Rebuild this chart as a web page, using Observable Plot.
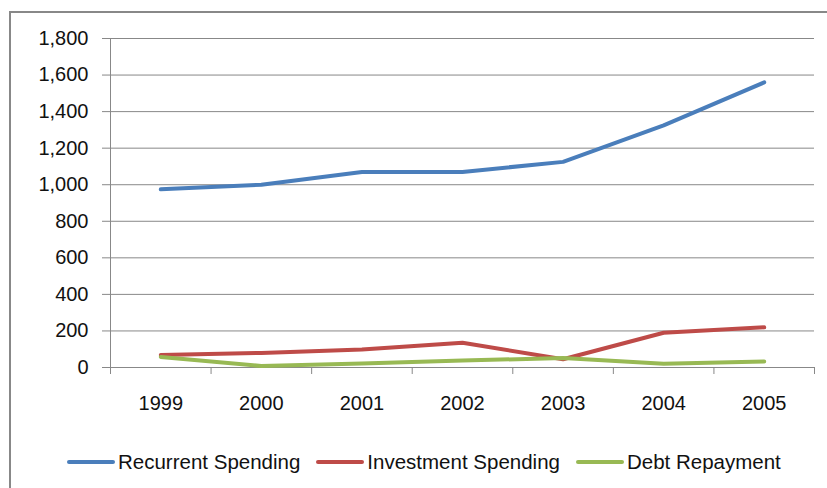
<!DOCTYPE html>
<html><head><meta charset="utf-8">
<script src="https://cdn.jsdelivr.net/npm/d3@7"></script>
<script src="https://cdn.jsdelivr.net/npm/@observablehq/plot@0.6"></script>
<style>
html,body{margin:0;padding:0;background:#fff;overflow:hidden;width:827px;height:488px;}
#frame{position:absolute;left:9px;top:11px;width:900px;height:600px;border-left:2px solid #888;border-top:2px solid #888;box-sizing:border-box;}
#chart{position:absolute;left:0;top:0;}
#legend{position:absolute;left:67px;top:450px;display:flex;align-items:center;font-family:"Liberation Sans",Arial,sans-serif;font-size:20.5px;color:#111;white-space:nowrap;}
.item{display:flex;align-items:center;margin-right:16px;}
.sw{width:48px;height:4px;margin-right:3px;border-radius:2px;}
</style></head><body>
<div id="frame"></div><div id="chart"></div><div id="legend"></div>
<script>
const years = [1999, 2000, 2001, 2002, 2003, 2004, 2005];
const recurrent = [975, 1000, 1070, 1070, 1125, 1325, 1560];
const investment = [68, 80, 98, 135, 45, 190, 220];
const debt = [58, 8, 22, 38, 52, 20, 33];
const seriesNames = ["Recurrent Spending", "Investment Spending", "Debt Repayment"];
const seriesColors = ["#4A7EBB", "#BE4B48", "#98B954"];
const yTicks = [0, 200, 400, 600, 800, 1000, 1200, 1400, 1600, 1800];

const seriesValues = [recurrent, investment, debt];
const rows = seriesNames.flatMap((name, s) => years.map((yr, i) => ({year: yr, value: seriesValues[s][i], series: name})));
const bounds = years.map(y => y - 0.5).concat([years[years.length - 1] + 0.5]);
const grey = "#888";
const fmtY = d3.format(",d");

const chart = Plot.plot({
  width: 827, height: 430,
  marginLeft: 110, marginRight: 13, marginTop: 38, marginBottom: 63,
  style: {fontFamily: "'Liberation Sans', Arial, sans-serif", fontSize: "20px", color: "#111", background: "transparent", overflow: "visible"},
  x: {type: "linear", domain: [bounds[0], bounds[bounds.length - 1]]},
  y: {domain: [yTicks[0], yTicks[yTicks.length - 1]]},
  color: {domain: seriesNames, range: seriesColors},
  marks: [
    Plot.gridY(yTicks, {stroke: grey, strokeOpacity: 1, strokeWidth: 1}),
    Plot.ruleX([bounds[0]], {stroke: grey, strokeWidth: 1}),
    Plot.axisY(yTicks, {tickSize: 8, tickPadding: 14, tickFormat: d => fmtY(d), stroke: grey, label: null}),
    Plot.axisX(bounds, {tickSize: 7, tickFormat: () => "", stroke: grey, label: null}),
    Plot.axisX(years, {tickSize: 0, tickPadding: 28, tickFormat: d => String(d), label: null}),
    Plot.line(rows, {x: "year", y: "value", z: "series", stroke: "series", strokeWidth: 4, strokeLinecap: "round", strokeLinejoin: "round"})
  ]
});
document.getElementById("chart").appendChild(chart);

const legend = d3.select("#legend");
seriesNames.forEach((name, i) => {
  const item = legend.append("div").attr("class", "item");
  item.append("div").attr("class", "sw").style("background", seriesColors[i]);
  item.append("span").text(name);
});
</script>
</body></html>
